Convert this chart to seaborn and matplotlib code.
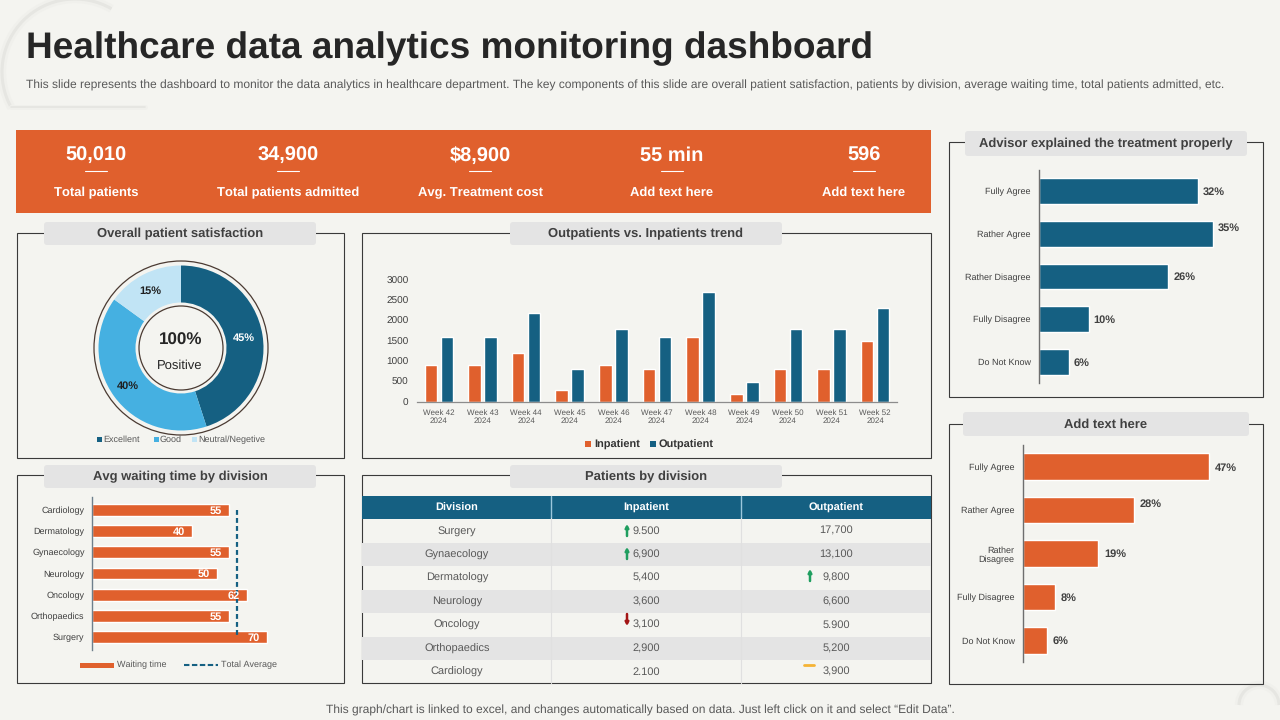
import matplotlib
matplotlib.use("Agg")
import matplotlib.pyplot as plt
from matplotlib.patches import Rectangle, FancyBboxPatch, Circle, Arc
from matplotlib.lines import Line2D
import pandas as pd
import seaborn as sns

sns.set_theme(style="white")
plt.rcParams['font.family'] = ['Liberation Sans', 'DejaVu Sans']
plt.rcParams['text.hinting'] = 'none'
plt.rcParams['text.hinting_factor'] = 1

BG = "#F4F4F0"; ORANGE = "#E0602D"; NAVY = "#156082"; SKY = "#45B0E1"; PALE = "#C1E4F5"
INK = "#404040"; PILL = "#E4E4E4"; EDGE = "#3A3A3A"

# ---- data ----
kpi_values = ["50,010", "34,900", "$8,900", "55 min", "596"]
kpi_labels = ["Total patients", "Total patients admitted", "Avg. Treatment cost", "Add text here", "Add text here"]
satisfaction_labels = ["Excellent", "Good", "Neutral/Negetive"]
satisfaction_values = [45, 40, 15]
weeks = ["Week 42\n2024", "Week 43\n2024", "Week 44\n2024", "Week 45\n2024", "Week 46\n2024", "Week 47\n2024",
         "Week 48\n2024", "Week 49\n2024", "Week 50\n2024", "Week 51\n2024", "Week 52\n2024"]
inpatient_trend = [900, 900, 1200, 300, 900, 800, 1600, 200, 800, 800, 1500]
outpatient_trend = [1600, 1600, 2200, 800, 1800, 1600, 2700, 500, 1800, 1800, 2300]
wait_divisions = ["Cardiology", "Dermatology", "Gynaecology", "Neurology", "Oncology", "Orthopaedics", "Surgery"]
wait_minutes = [55, 40, 55, 50, 62, 55, 70]
wait_average = 58
table_division = ["Surgery", "Gynaecology", "Dermatology", "Neurology", "Oncology", "Orthopaedics", "Cardiology"]
table_inpatient = ["9.500", "6,900", "5,400", "3,600", "3,100", "2,900", "2.100"]
table_outpatient = ["17,700", "13,100", "9,800", "6,600", "5.900", "5,200", "3,900"]
advisor_labels = ["Fully Agree", "Rather Agree", "Rather Disagree", "Fully Disagree", "Do Not Know"]
advisor_values = [32, 35, 26, 10, 6]
other_labels = ["Fully Agree", "Rather Agree", "Rather\nDisagree", "Fully Disagree", "Do Not Know"]
other_values = [47, 28, 19, 8, 6]

W, H = 1280, 720
fig = plt.figure(figsize=(12.8, 7.2), dpi=100, facecolor=BG)
bg = fig.add_axes([0, 0, 1, 1], zorder=0)
bg.set_xlim(0, W); bg.set_ylim(H, 0); bg.axis("off")
top = fig.add_axes([0, 0, 1, 1], zorder=5)
top.set_xlim(0, W); top.set_ylim(H, 0); top.axis("off"); top.patch.set_alpha(0)


def ax_px(x0, y0, x1, y1):
    a = fig.add_axes([x0 / W, 1 - y1 / H, (x1 - x0) / W, (y1 - y0) / H], zorder=2)
    a.patch.set_alpha(0)
    return a


def px(size):
    return size * 0.72


# decorations
for lw, col in [(6, "#F0F0EC"), (2.2, "#E6E6E2")]:
    bg.add_patch(Arc((75, 72), 146, 146, theta1=150.5, theta2=300, color=col, lw=lw))
    bg.plot([11, 145], [107, 107], color=col, lw=lw * 0.6)
    bg.add_patch(Arc((1259, 705), 40, 40, theta1=180, theta2=360, color=col, lw=lw))

top.text(26, 49, "Healthcare data analytics monitoring dashboard", fontsize=px(36.75), fontweight="bold",
         color="#262626", va="center", ha="left")
top.text(26, 85, "This slide represents the dashboard to monitor the data analytics in healthcare department. The key "
         "components of this slide are overall patient satisfaction, patients by division, average waiting time, "
         "total patients admitted, etc.", fontsize=px(11.96), color="#595959", va="center", ha="left")
top.text(640, 710, "This graph/chart is linked to excel, and changes automatically based on data. Just left click on it "
         "and select \u201cEdit Data\u201d.", fontsize=px(11.95), color="#595959", va="center", ha="center")

# KPI band
bg.add_patch(Rectangle((16, 130), 915, 83, color=ORANGE, lw=0))
for cx, v, l in zip([96, 288, 480, 672, 864], kpi_values, kpi_labels):
    top.text(cx, 155.5, v, color="white", fontsize=px(19.7), fontweight="bold", ha="center", va="center")
    top.plot([cx - 11, cx + 11], [171, 171], color="white", lw=0.8)
    top.text(cx, 193, l, color="white", fontsize=px(13), fontweight="bold", ha="center", va="center")


def panel(x0, y0, x1, y1, px0, py0, px1, py1, title):
    bg.add_patch(Rectangle((x0, y0), x1 - x0, y1 - y0, fill=False, ec=EDGE, lw=0.8))
    bg.add_patch(FancyBboxPatch((px0 + 3, py0 + 3), px1 - px0 - 6, py1 - py0 - 6,
                                boxstyle="round,pad=3", fc=PILL, ec=PILL, lw=0, zorder=3))
    bg.text((px0 + px1) / 2, (py0 + py1) / 2 + 0.5, title, fontsize=px(13), fontweight="bold", color=INK,
            ha="center", va="center", zorder=4)


panel(17, 233, 344, 458, 44, 222, 316, 245, "Overall patient satisfaction")
panel(362, 233, 931, 458, 510, 222, 782, 245, "Outpatients vs. Inpatients trend")
panel(17, 475, 344, 683, 44, 465, 316, 488, "Avg waiting time by division")
panel(362, 475, 931, 683, 510, 465, 782, 488, "Patients by division")
panel(949, 142, 1263, 397, 965, 131, 1247, 156, "Advisor explained the treatment properly")
panel(949, 424, 1263, 684, 963, 412, 1249, 436, "Add text here")

# donut
d = ax_px(181 - 90, 348 - 90, 181 + 90, 348 + 90)
d.set_xlim(-90, 90); d.set_ylim(-90, 90); d.set_aspect("equal"); d.axis("off")
d.pie(satisfaction_values, colors=[NAVY, SKY, PALE], startangle=90, counterclock=False, radius=82.5,
      wedgeprops=dict(width=37, edgecolor="none"), center=(0, 0), frame=False)
d.set_xlim(-90, 90); d.set_ylim(-90, 90)
d.add_patch(Circle((0, 0), 87, fill=False, ec="#4A3A32", lw=0.9))
d.add_patch(Circle((0, 0), 42, fill=False, ec="#4A3A32", lw=0.9))
top.text(243.5, 338.5, f"{satisfaction_values[0]}%", color="white", fontsize=px(11), fontweight="bold", ha="center", va="center")
top.text(128, 386.5, f"{satisfaction_values[1]}%", color="#1F1F1F", fontsize=px(11), fontweight="bold", ha="center", va="center")
top.text(150, 291.5, f"{satisfaction_values[2]}%", color="#1F1F1F", fontsize=px(11), fontweight="bold", ha="center", va="center")
top.text(181, 340, "100%", color="#262626", fontsize=px(17), fontweight="bold", ha="center", va="center")
top.text(180, 365.5, "Positive", color="#262626", fontsize=px(12.5), ha="center", va="center")
for x, c, l in zip([97, 154, 192], [NAVY, SKY, PALE], satisfaction_labels):
    top.add_patch(Rectangle((x, 437), 5, 5, color=c, lw=0))
    top.text(x + 6, 440, l, fontsize=px(9.5), color="#595959", va="center", ha="left")

# trend
t = ax_px(417, 280, 897, 402)
df = pd.DataFrame({"week": weeks * 2, "value": inpatient_trend + outpatient_trend,
                   "kind": ["Inpatient"] * 11 + ["Outpatient"] * 11})
sns.barplot(data=df, x="week", y="value", hue="kind", palette=[ORANGE, NAVY], width=0.734, gap=0.22,
            legend=False, ax=t, saturation=1)
t.set_ylim(0, 3000); t.set_xlim(-0.5, 10.5); t.set_xlabel(""); t.set_ylabel("")
t.set_yticks([0, 500, 1000, 1500, 2000, 2500, 3000])
t.tick_params(axis="y", length=0, labelsize=px(10), labelcolor=INK, pad=6)
t.tick_params(axis="x", length=0, labelsize=px(8.4), labelcolor="#595959", pad=5)
for lbl in t.get_xticklabels():
    lbl.set_linespacing(1.2)
sns.despine(ax=t, left=True)
t.spines["bottom"].set_color("#8C8C8C"); t.spines["bottom"].set_linewidth(0.9)
for x, c, l in zip([585, 650], [ORANGE, NAVY], ["Inpatient", "Outpatient"]):
    top.add_patch(Rectangle((x, 441), 6, 6, color=c, lw=0))
    top.text(x + 9, 444.5, l, fontsize=px(11.4), fontweight="bold", color="#333333", va="center", ha="left")

# waiting
w = ax_px(91.5, 497, 91.5 + 250, 650)
sns.barplot(x=wait_minutes, y=wait_divisions, orient="h", color=ORANGE, width=0.55, ax=w, saturation=1)
w.set_xlim(0, 100); w.set_xticks([])
w.tick_params(axis="y", length=0, labelsize=px(9.3), labelcolor=INK, pad=5)
sns.despine(ax=w, bottom=True)
w.spines["left"].set_color("#6E7F8C"); w.spines["left"].set_linewidth(1)
w.plot([wait_average, wait_average], [0, 6], color=NAVY, lw=1.6, ls=(0, (2.2, 1.4)), zorder=5)
for i, v in enumerate(wait_minutes):
    w.text(v - 5.1, i + 0.04, str(v), color="white", fontsize=px(11.5), fontweight="bold", ha="center", va="center", zorder=6)
top.add_patch(Rectangle((80, 662.5), 34, 5, color=ORANGE, lw=0))
top.text(117, 665, "Waiting time", fontsize=px(9.5), color="#595959", va="center", ha="left")
top.add_line(Line2D([184, 218], [665, 665], color=NAVY, lw=1.5, ls=(0, (2.6, 1.2))))
top.text(221, 665, "Total Average", fontsize=px(9.5), color="#595959", va="center", ha="left")

# table
cols = [362, 551, 741, 931]
bg.add_patch(Rectangle((362, 496), 569, 22.5, color=NAVY, lw=0))
for cx, h in zip([457, 646, 836], ["Division", "Inpatient", "Outpatient"]):
    top.text(cx, 507, h, color="white", fontsize=px(11), fontweight="bold", ha="center", va="center_baseline")
row_y = [530, 554, 577, 601, 624, 648, 671]
for i, yc in enumerate(row_y):
    if i % 2 == 1:
        bg.add_patch(Rectangle((362, yc - 11.5), 569, 23.5, color="#E4E4E4", lw=0))
    top.text(457, yc, table_division[i], fontsize=px(10.8), color="#595959", ha="center", va="center_baseline")
    top.text(646.5, yc, table_inpatient[i], fontsize=px(10.8), color="#595959", ha="center", va="center_baseline")
    top.text(836, yc, table_outpatient[i], fontsize=px(10.8), color="#595959", ha="center", va="center_baseline")
for x in cols[1:3]:
    bg.plot([x, x], [496, 518], color="#9CC7DC", lw=1, zorder=3)
    bg.plot([x, x], [518, 683], color="#E0E0E0", lw=0.8, zorder=3)


def arrow(x, y0, y1, c):
    top.annotate("", xy=(x, y1), xytext=(x, y0),
                 arrowprops=dict(arrowstyle="-|>,head_width=0.08,head_length=0.15", color=c, lw=1.8, shrinkA=0, shrinkB=0))


arrow(627, 536, 524, "#1F9E5F")
arrow(627, 559, 547, "#1F9E5F")
arrow(810, 581, 569, "#1F9E5F")
arrow(627, 614, 626, "#A31515")
top.plot([804, 814], [665, 665], color="#F5B335", lw=2)


def hbars(a, labels, values, color, xmax, lab_dx, lifted):
    sns.barplot(x=values, y=labels, orient="h", color=color, width=0.61, ax=a, saturation=1)
    a.set_xlim(0, xmax); a.set_xticks([])
    a.tick_params(axis="y", length=0, labelsize=px(9.5), labelcolor=INK, pad=6)
    for lbl in a.get_yticklabels():
        lbl.set_linespacing(1.25)
    sns.despine(ax=a, bottom=True)
    a.spines["left"].set_color("#6E6E6E"); a.spines["left"].set_linewidth(1)
    for i, v in enumerate(values):
        a.text(v + lab_dx, i + (lifted if i == 1 else 0.02), f"{v}%", fontsize=px(11), fontweight="bold",
               color="#404040", ha="left", va="center")


hbars(ax_px(1039, 170, 1039 + 224, 383), advisor_labels, advisor_values, NAVY, 224 / 4.97, 1.0, -0.14)
hbars(ax_px(1023, 445, 1023 + 240, 662), other_labels, other_values, ORANGE, 240 / 3.96, 1.5, -0.14)

fig.savefig("out.png", dpi=100, facecolor=BG)
